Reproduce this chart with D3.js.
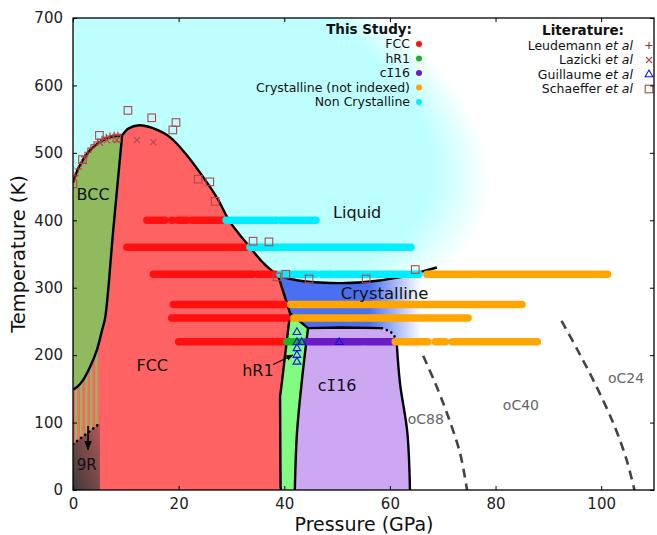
<!DOCTYPE html>
<html lang="en">
<head>
<meta charset="UTF-8">
<title>li-phase-diagram</title>
<script src="https://cdn.jsdelivr.net/npm/d3@7/dist/d3.min.js"></script>
<style>
  body { margin: 0; background: #fff; }
  svg { font-family: "DejaVu Sans", sans-serif; }
</style>
</head>
<body>
<svg id="chart" width="657" height="535"></svg>
<script>
// ---- phase boundaries [pressure GPa, temperature K] ----
var bccMelt = [[0,456],[1,477],[2,491],[3,502],[4.5,513],[6,520],[7.5,524],[9.3,526]];
var bccFcc = [[9.3,526],[7.6,384],[6.1,256],[5.5,237],[4.5,207],[3.2,182],[1.9,163],[0.8,153],[0,149]];
var fccMelt = [[9.3,526],[10.5,536],[12.5,541],[15,537],[18.4,523],[22,492],[25,460],[27.3,433],[29.7,398],[33.5,360],[36,337],[38.8,319]];
var crystMelt = [[38.8,319],[42.4,311],[48.7,307],[54.9,308],[61.4,315],[68.9,330]];
var fccCryst = [[38.8,319],[41.1,262]];
var hr1Top = [[41.1,262],[44.5,240]];
var ci16Top = [[44.5,240],[51,241],[58.5,240]];
var ci16Dotted = [[58.5,240],[60.2,234],[61.0,226],[61.3,217]];
var ci16Right = [[61.3,217],[61.9,159],[63.3,85],[63.8,0]];
var fccHr1 = [[41.1,262],[40.2,203],[39.6,163],[39.2,138],[39.3,4],[39.4,0]];
var hr1Ci16 = [[44.5,240],[43.4,167],[42.4,84],[42.0,0]];
var nineR = [[0,68],[5.1,99]];
var stripeP = [0.6, 1.5, 2.5, 3.4, 4.4];
var oc88Line = [[66.3,199],[68.5,160],[70.8,114],[73.3,54],[74.6,0]];
var oc24Line = [[92.5,251],[95.5,208],[98.5,163],[102.3,99],[104.8,45],[106.3,0]];

// ---- this study: runs of measurements [T, P start, P end] ----
var fccRuns = [[400,14.0,17.4],[400,18.7,18.8],[400,19.9,21.6],[400,22.5,28.4],[360,10.2,33.0],
  [320,15.2,24.4],[320,25.0,34.1],[320,35.0,38.4],[275,19.0,40.0],[255,18.7,40.4],[220,20.0,30.8],[220,31.3,40.0]];
var hr1Runs = [[220,40.5,43.6]];
var ci16Runs = [[220,44.3,55.0],[220,55.6,60.6]];
var crystRuns = [[320,67.0,76.7],[320,77.2,98.9],[320,99.5,101.2],[275,41.2,85.0],[255,41.8,74.8],
  [220,61.0,67.2],[220,68.6,70.5],[220,71.8,87.9]];
var nonCrystRuns = [[400,29.0,38.5],[400,39.3,46.0],[360,33.5,64.0],[320,39.2,46.0],[320,47.0,49.0],[320,49.8,65.5]];

// ---- literature ----
var leudemann = [[0.4,466],[1.0,476],[1.6,485],[2.2,494],[2.8,501],[3.4,507],[4.0,512],[4.7,516],[5.5,520],[6.3,523],[7.0,525],[7.8,526],[8.5,526]];
var lazicki = [[5.1,515],[6.4,519],[8.3,519],[12.1,519],[15.2,516]];
var guillaume = [[42.4,234],[42.4,219],[43.3,219],[42.4,210],[42.4,200],[42.4,190],[50.4,219]];
var schaeffer = [[0,454],[1.8,490],[5.0,526],[8.3,522],[10.4,563],[14.9,552],[18.9,534],[19.5,545],[23.7,461],[25.9,457],
  [26.9,428],[34.1,369],[37.1,368],[38.6,316],[40.3,320],[44.7,313],[55.5,313],[64.8,327]];

var studyLabels = ['FCC', 'hR1', 'cI16', 'Crystalline (not indexed)', 'Non Crystalline'];
var studyColors = ['#ff1010', '#1fb51f', '#6a1bc8', '#ffa500', '#00eeff'];
var litNames = ['Leudemann', 'Lazicki', 'Guillaume', 'Schaeffer'];
var xTicks = [0, 20, 40, 60, 80, 100];
var yTicks = [0, 100, 200, 300, 400, 500, 600, 700];

// ---- scales ----
var x = d3.scaleLinear().domain([0, 110]).range([73, 654]);
var y = d3.scaleLinear().domain([0, 700]).range([490, 18]);
var svg = d3.select('#chart');
var defs = svg.append('defs');

function seg(pts, curve) {
  return d3.line().x(function (d) { return x(d[0]); }).y(function (d) { return y(d[1]); })
    .curve(curve || d3.curveLinear)(pts);
}
function join(parts) {
  return parts.map(function (p, i) { return i === 0 ? p : p.replace(/^M/, 'L'); }).join('') + 'Z';
}
var cr = d3.curveCatmullRom.alpha(0.5);
function rev(a) { return a.slice().reverse(); }
// capital I drawn with serifs like the original font
function label(sel, t) {
  t.split(/(I)/).forEach(function (p) {
    if (!p) return;
    var s = sel.append('tspan').text(p);
    if (p === 'I') s.style('font-family', '"DejaVu Sans Mono", monospace');
  });
}

// clip for plot area
defs.append('clipPath').attr('id', 'plotClip').append('rect')
  .attr('x', x(0)).attr('y', y(700)).attr('width', x(110) - x(0)).attr('height', y(0) - y(700));

// liquid: cyan with soft fade
var rg = defs.append('radialGradient').attr('id', 'liqFade');
rg.append('stop').attr('offset', '0%').attr('stop-color', '#fff');
rg.append('stop').attr('offset', '80%').attr('stop-color', '#fff');
rg.append('stop').attr('offset', '100%').attr('stop-color', '#000');
var mask = defs.append('mask').attr('id', 'liqMask').attr('maskUnits', 'userSpaceOnUse')
  .attr('x', 0).attr('y', 0).attr('width', 657).attr('height', 535);
mask.append('ellipse').attr('cx', x(24)).attr('cy', y(548)).attr('rx', 300).attr('ry', 180)
  .attr('transform', 'rotate(19 ' + x(24) + ' ' + y(548) + ')').attr('fill', 'url(#liqFade)');
defs.append('clipPath').attr('id', 'liqClip').append('path')
  .attr('d', join([seg([[0,700],[0,456]]), seg(bccMelt, cr), seg(fccMelt.concat(crystMelt.slice(1)), cr), seg([[68.9,330],[110,330],[110,700]])]));

// crystalline fade
var lg = defs.append('linearGradient').attr('id', 'crystFade').attr('gradientUnits', 'userSpaceOnUse')
  .attr('x1', x(56)).attr('x2', x(66)).attr('y1', 0).attr('y2', 0);
lg.append('stop').attr('offset', '0%').attr('stop-color', '#4a6ff0').attr('stop-opacity', 1);
lg.append('stop').attr('offset', '100%').attr('stop-color', '#4a6ff0').attr('stop-opacity', 0);

// 9R shading
var ng = defs.append('linearGradient').attr('id', 'nineR').attr('x1', 0).attr('y1', 1).attr('x2', 1).attr('y2', 0);
ng.append('stop').attr('offset', '0%').attr('stop-color', '#3a3a3a');
ng.append('stop').attr('offset', '100%').attr('stop-color', '#b85656');

defs.append('clipPath').attr('id', 'stripeClip').append('path')
  .attr('d', join([seg([[0,68],[5.1,99],[5.1,300],[0,300]])]));

defs.append('marker').attr('id', 'arrow').attr('viewBox', '0 0 10 10').attr('refX', 9).attr('refY', 5)
  .attr('markerWidth', 6).attr('markerHeight', 6).attr('orient', 'auto')
  .append('path').attr('d', 'M0,1 L10,5 L0,9 Z').attr('fill', '#000');

var plot = svg.append('g').attr('clip-path', 'url(#plotClip)');

plot.append('g').attr('clip-path', 'url(#liqClip)').append('rect')
  .attr('x', x(0)).attr('y', y(700)).attr('width', x(110) - x(0)).attr('height', y(0) - y(700))
  .attr('fill', '#bdffff').attr('mask', 'url(#liqMask)');

// crystalline region
plot.append('path')
  .attr('d', join([seg(crystMelt, cr), seg([[68.9,330],[72,330],[72,200]]), seg(rev(ci16Dotted), cr), seg(rev(ci16Top)), seg(rev(hr1Top)), seg(rev(fccCryst))]))
  .attr('fill', 'url(#crystFade)');

// FCC
plot.append('path')
  .attr('d', join([seg([[0,0],[0,149]]), seg(rev(bccFcc), cr), seg(fccMelt, cr), seg(fccCryst), seg(fccHr1), seg([[0,0]])]))
  .attr('fill', '#ff6262');

// stripes (mixed region)
plot.append('g').attr('clip-path', 'url(#stripeClip)').selectAll('rect').data(stripeP).enter().append('rect')
  .attr('x', function (d) { return x(d) - 1; }).attr('width', 2.4)
  .attr('y', y(300)).attr('height', y(0) - y(300)).attr('fill', '#8fbb5e');

// BCC
plot.append('path').attr('d', join([seg(bccMelt, cr), seg(bccFcc, cr)])).attr('fill', '#8fbb5e');
// hR1
plot.append('path').attr('d', join([seg(hr1Top), seg(hr1Ci16, cr), seg([[42.0,0],[39.4,0]]), seg(rev(fccHr1))])).attr('fill', '#82fb82');
// cI16
plot.append('path').attr('d', join([seg(ci16Top), seg(ci16Dotted, cr), seg(ci16Right, cr), seg([[63.8,0],[42.0,0]]), seg(rev(hr1Ci16), cr)])).attr('fill', '#cda8f2');
// 9R
plot.append('path').attr('d', join([seg([[0,0]].concat(nineR).concat([[5.1,0]]))])).attr('fill', 'url(#nineR)');

// boundary lines
var solid = [[bccMelt, cr], [bccFcc, cr], [fccMelt.concat(crystMelt.slice(1)), cr], [fccCryst], [hr1Top], [ci16Top],
  [ci16Right, cr], [fccHr1], [hr1Ci16, cr]];
solid.forEach(function (s) {
  plot.append('path').attr('d', seg(s[0], s[1])).attr('fill', 'none').attr('stroke', '#000')
    .attr('stroke-width', 2.4).attr('stroke-linejoin', 'round');
});
plot.append('path').attr('d', seg(ci16Dotted, cr)).attr('fill', 'none').attr('stroke', '#000')
  .attr('stroke-width', 2.6).attr('stroke-dasharray', '0.1 5').attr('stroke-linecap', 'round');
plot.append('path').attr('d', seg(nineR)).attr('fill', 'none').attr('stroke', '#000')
  .attr('stroke-width', 2.6).attr('stroke-dasharray', '0.1 5').attr('stroke-linecap', 'round');
[oc88Line, oc24Line].forEach(function (l) {
  plot.append('path').attr('d', seg(l, cr)).attr('fill', 'none').attr('stroke', '#444')
    .attr('stroke-width', 2.6).attr('stroke-dasharray', '9 6');
});

// 9R arrow
plot.append('line').attr('x1', x(2.85)).attr('x2', x(2.85)).attr('y1', y(95)).attr('y2', y(60))
  .attr('stroke', '#000').attr('stroke-width', 1.6).attr('marker-end', 'url(#arrow)');

// this study runs
var runSets = [fccRuns, hr1Runs, ci16Runs, crystRuns, nonCrystRuns];
runSets.forEach(function (runs, i) {
  plot.append('g').selectAll('line').data(runs).enter().append('line')
    .attr('x1', function (d) { return x(d[1]); }).attr('x2', function (d) { return x(d[2]); })
    .attr('y1', function (d) { return y(d[0]); }).attr('y2', function (d) { return y(d[0]); })
    .attr('stroke', studyColors[i]).attr('stroke-width', 7.5).attr('stroke-linecap', 'round');
});

// literature markers
var litColor = '#b0484a';
plot.append('g').selectAll('path').data(leudemann).enter().append('path')
  .attr('d', function (d) { var cx = x(d[0]), cy = y(d[1]); return 'M' + (cx - 3.5) + ',' + cy + 'h7M' + cx + ',' + (cy - 3.5) + 'v7'; })
  .attr('stroke', '#b22a2a').attr('stroke-width', 1.1);
plot.append('g').selectAll('path').data(lazicki).enter().append('path')
  .attr('d', function (d) { var cx = x(d[0]), cy = y(d[1]); return 'M' + (cx - 3) + ',' + (cy - 3) + 'l6,6M' + (cx - 3) + ',' + (cy + 3) + 'l6,-6'; })
  .attr('stroke', litColor).attr('stroke-width', 1.1);
plot.append('g').selectAll('path').data(guillaume).enter().append('path')
  .attr('transform', function (d) { return 'translate(' + x(d[0]) + ',' + y(d[1]) + ')'; })
  .attr('d', d3.symbol().type(d3.symbolTriangle).size(26))
  .attr('fill', 'none').attr('stroke', '#1010ee').attr('stroke-width', 1.1);
plot.append('g').selectAll('rect').data(schaeffer).enter().append('rect')
  .attr('x', function (d) { return x(d[0]) - 3.8; }).attr('y', function (d) { return y(d[1]) - 3.8; })
  .attr('width', 7.6).attr('height', 7.6).attr('fill', 'none').attr('stroke', litColor).attr('stroke-width', 1.1);

// region labels
var labels = [
  ['BCC', 3.8, 438, '#111', 16], ['FCC', 15, 185, '#111', 16], ['hR1', 35, 178, '#111', 16],
  ['cI16', 50, 155, '#111', 16], ['Liquid', 53.8, 411, '#111', 16], ['Crystalline', 59, 292, '#111', 16.5],
  ['9R', 2.6, 37, '#111', 15], ['oC88', 66.8, 105, '#666', 14], ['oC40', 84.8, 126, '#666', 14], ['oC24', 104.7, 166, '#666', 14]
];
svg.append('g').selectAll('text').data(labels).enter().append('text')
  .attr('x', function (d) { return x(d[1]); }).attr('y', function (d) { return y(d[2]); })
  .attr('dy', '0.35em').attr('text-anchor', 'middle')
  .attr('fill', function (d) { return d[3]; }).style('font-size', function (d) { return d[4] + 'px'; })
  .each(function (d) { label(d3.select(this), d[0]); });

// hR1 pointer
svg.append('line').attr('x1', x(37.9)).attr('y1', y(186)).attr('x2', x(41.6)).attr('y2', y(200))
  .attr('stroke', '#000').attr('stroke-width', 1.2).attr('marker-end', 'url(#arrow)');

// legends
var leg = svg.append('g').style('font-size', '12.5px').attr('fill', '#111');
leg.append('text').attr('x', 412).attr('y', 29).attr('dy', '0.35em').attr('text-anchor', 'end')
  .style('font-weight', 'bold').style('font-size', '13.5px').text('This Study:');
var studyY = [44, 58.5, 73, 87.5, 102];
studyLabels.forEach(function (t, i) {
  label(leg.append('text').attr('x', 410).attr('y', studyY[i]).attr('dy', '0.35em').attr('text-anchor', 'end'), t);
  leg.append('circle').attr('cx', 419).attr('cy', studyY[i]).attr('r', 3).attr('fill', studyColors[i]);
});
leg.append('text').attr('x', 624).attr('y', 30).attr('dy', '0.35em').attr('text-anchor', 'end')
  .style('font-weight', 'bold').style('font-size', '13.5px').text('Literature:');
var litY = [45.5, 60, 74.5, 89];
litNames.forEach(function (t, i) {
  var tx = leg.append('text').attr('x', 633).attr('y', litY[i]).attr('dy', '0.35em').attr('text-anchor', 'end');
  tx.append('tspan').text(t + ' ');
  tx.append('tspan').style('font-style', 'italic').text('et al');
});
var mx = 649;
leg.append('path').attr('d', 'M' + (mx - 3.5) + ',' + litY[0] + 'h7M' + mx + ',' + (litY[0] - 3.5) + 'v7').attr('stroke', '#b22a2a').attr('stroke-width', 1.1);
leg.append('path').attr('d', 'M' + (mx - 3) + ',' + (litY[1] - 3) + 'l6,6M' + (mx - 3) + ',' + (litY[1] + 3) + 'l6,-6').attr('stroke', litColor).attr('stroke-width', 1.1);
leg.append('path').attr('transform', 'translate(' + mx + ',' + litY[2] + ')').attr('d', d3.symbol().type(d3.symbolTriangle).size(26)())
  .attr('fill', 'none').attr('stroke', '#1010ee').attr('stroke-width', 1.1);
leg.append('rect').attr('x', mx - 3.8).attr('y', litY[3] - 3.8).attr('width', 7.6).attr('height', 7.6)
  .attr('fill', 'none').attr('stroke', litColor).attr('stroke-width', 1.1);

// axes (inward ticks on all four sides)
function styleAxis(g) {
  g.select('.domain').remove();
  g.attr('font-size', 15).attr('font-family', '"DejaVu Sans", sans-serif');
  g.selectAll('.tick text').attr('fill', '#222');
  g.selectAll('.tick line').attr('stroke', '#000');
}
svg.append('g').attr('transform', 'translate(0,' + y(0) + ')')
  .call(d3.axisBottom(x).tickValues(xTicks).tickSize(-4).tickPadding(8)).call(styleAxis);
svg.append('g').attr('transform', 'translate(' + x(0) + ',0)')
  .call(d3.axisLeft(y).tickValues(yTicks).tickSize(-4).tickPadding(10)).call(styleAxis);
svg.append('g').attr('transform', 'translate(0,' + y(700) + ')')
  .call(d3.axisTop(x).tickValues(xTicks).tickSize(-4).tickFormat('')).call(styleAxis);
svg.append('g').attr('transform', 'translate(' + x(110) + ',0)')
  .call(d3.axisRight(y).tickValues(yTicks).tickSize(-4).tickFormat('')).call(styleAxis);
svg.append('rect').attr('x', x(0)).attr('y', y(700)).attr('width', x(110) - x(0)).attr('height', y(0) - y(700))
  .attr('fill', 'none').attr('stroke', '#000').attr('stroke-width', 1.3);

svg.append('text').attr('x', 364).attr('y', 531).attr('text-anchor', 'middle').style('font-size', '19px').attr('fill', '#111')
  .text('Pressure (GPa)');
svg.append('text').attr('transform', 'translate(25,254) rotate(-90)').attr('text-anchor', 'middle').style('font-size', '19.5px').attr('fill', '#111')
  .text('Temperature (K)');
</script>
</body>
</html>
